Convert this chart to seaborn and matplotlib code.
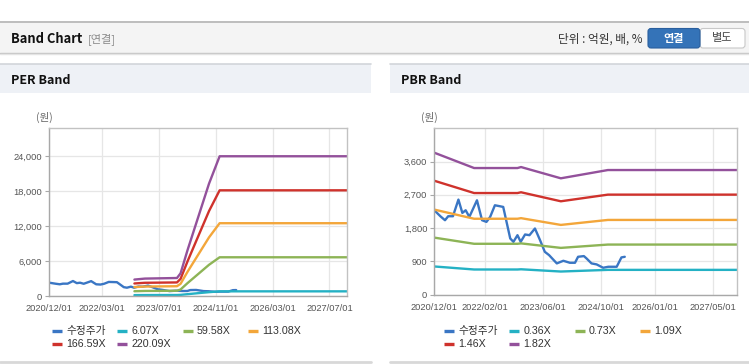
import matplotlib
matplotlib.use("Agg")
import matplotlib.pyplot as plt
from matplotlib.patches import Rectangle, FancyBboxPatch
from matplotlib.ticker import FuncFormatter, FixedLocator
import seaborn as sns
import pandas as pd

sns.set_theme(style="white")
LATIN = ["Liberation Sans", "Noto Sans CJK KR", "DejaVu Sans"]
KR = ["Noto Sans CJK KR", "DejaVu Sans"]
plt.rcParams["font.family"] = LATIN

# ---------------- data ----------------
price_dates = ["2020-12-01", "2021-01-21", "2021-03-01", "2021-03-28", "2021-05-07",
               "2021-06-22", "2021-07-25", "2021-08-22", "2021-09-22", "2021-11-25",
               "2022-01-07", "2022-02-13", "2022-03-16", "2022-04-25", "2022-06-07",
               "2022-07-04", "2022-09-01", "2022-09-28", "2022-11-01", "2022-11-28",
               "2023-01-04", "2023-02-10", "2023-03-28", "2023-05-10", "2023-06-19",
               "2023-07-25", "2023-09-28", "2023-11-22", "2024-01-16", "2024-02-28",
               "2024-03-25", "2024-05-13", "2024-06-04", "2024-07-16", "2024-08-28",
               "2024-10-22", "2024-12-04", "2025-02-13", "2025-03-25", "2025-04-22"]
price_values = [2281, 2119, 2011, 2119, 2119, 2570, 2209, 2281, 2101, 2551,
                2011, 1966, 2101, 2416, 2389, 2371, 1517, 1426, 1606, 1426,
                1625, 1606, 1787, 1471, 1156, 1066, 842, 913, 859, 859,
                1021, 1040, 977, 842, 815, 724, 751, 751, 1004, 1021]

per_band_dates = ["2022-12-01", "2023-03-01", "2023-12-01", "2024-01-01", "2024-03-01",
                  "2024-06-01", "2024-09-01", "2024-12-01", "2027-12-01"]
per_6_07 = [150, 160, 170, 195, 315, 490, 660, 800, 800]
per_59_58 = [820, 870, 900, 1120, 2220, 3790, 5360, 6650, 6650]
per_113_08 = [1530, 1620, 1680, 2100, 4170, 7120, 10070, 12500, 12500]
per_166_59 = [2150, 2270, 2330, 2950, 5970, 10290, 14590, 18150, 18150]
per_220_09 = [2820, 2990, 3090, 3900, 7900, 13600, 19300, 24000, 24000]
per_labels = ["6.07X", "59.58X", "113.08X", "166.59X", "220.09X"]

pbr_band_dates = ["2020-12-01", "2021-11-01", "2022-11-01", "2022-12-01",
                  "2023-11-01", "2024-12-01", "2027-12-01"]
pbr_0_36 = [759, 677, 677, 683, 622, 667, 667]
pbr_0_73 = [1540, 1373, 1373, 1384, 1262, 1352, 1352]
pbr_1_09 = [2299, 2051, 2051, 2067, 1884, 2019, 2019]
pbr_1_46 = [3080, 2747, 2747, 2768, 2524, 2704, 2704]
pbr_1_82 = [3839, 3424, 3424, 3451, 3146, 3370, 3370]
pbr_labels = ["0.36X", "0.73X", "1.09X", "1.46X", "1.82X"]

price_label = "수정주가"

per_xticks = ["2020-12-01", "2022-03-01", "2023-07-01", "2024-11-01", "2026-03-01", "2027-07-01"]
pbr_xticks = ["2020-12-01", "2022-02-01", "2023-06-01", "2024-10-01", "2026-01-01", "2027-05-01"]
per_yticks = [0, 6000, 12000, 18000, 24000]
pbr_yticks = [0, 900, 1800, 2700, 3600]

colors = ["#3a76c4", "#24b1c4", "#8db456", "#f3a63a", "#cf322c", "#93519b"]

# ---------------- build frames ----------------
def make_frame(band_dates, bands, labels):
    rows = []
    for d, v in zip(price_dates, price_values):
        rows.append((pd.Timestamp(d), v, price_label))
    for lab, vals in zip(labels, bands):
        for d, v in zip(band_dates, vals):
            rows.append((pd.Timestamp(d), v, lab))
    return pd.DataFrame(rows, columns=["date", "value", "series"])

per_df = make_frame(per_band_dates, [per_6_07, per_59_58, per_113_08, per_166_59, per_220_09], per_labels)
pbr_df = make_frame(pbr_band_dates, [pbr_0_36, pbr_0_73, pbr_1_09, pbr_1_46, pbr_1_82], pbr_labels)

W, H = 749, 364
fig = plt.figure(figsize=(W / 100, H / 100), dpi=100)
fig.patch.set_facecolor("white")

# overlay in pixel coordinates
ov = fig.add_axes([0, 0, 1, 1], zorder=0)
ov.set_xlim(0, W)
ov.set_ylim(H, 0)
ov.axis("off")

ov.plot([0, W], [22, 22], color="#b8b8b8", lw=1.3)
ov.add_patch(Rectangle((0, 23), W, 29.5, facecolor="#f4f4f4", edgecolor="none"))
ov.plot([0, W], [52.5, 52.5], color="#c4c4c4", lw=1.0)
ov.plot([0, W], [53.5, 53.5], color="#e4e4e4", lw=1.0)
ov.text(11, 39, "Band Chart", fontsize=9.3, fontweight="bold", color="#111111",
        va="center", ha="left", family=KR)
ov.text(88, 39, "[연결]", fontsize=8.0, color="#8a8a8a", va="center", ha="left", family=KR)
ov.text(643, 39, "단위 : 억원, 배, %", fontsize=8.4, color="#333333", va="center", ha="right", family=KR)
ov.add_patch(FancyBboxPatch((700, 28.5), 45, 19.5, boxstyle="round,pad=0,rounding_size=3",
                            facecolor="white", edgecolor="#c8c8c8", lw=0.8))
ov.add_patch(FancyBboxPatch((648, 28.5), 52, 19.5, boxstyle="round,pad=0,rounding_size=3",
                            facecolor="#3473b8", edgecolor="#2a5f9e", lw=0.8))
ov.text(674, 38.5, "연결", fontsize=8.0, fontweight="bold", color="white", va="center", ha="center", family=KR)
ov.text(722, 38.5, "별도", fontsize=8.0, color="#444444", va="center", ha="center", family=KR)

for x0, x1, title in [(0, 371, "PER Band"), (390, 749, "PBR Band")]:
    ov.add_patch(Rectangle((x0, 64), x1 - x0, 28.5, facecolor="#eef1f6", edgecolor="none"))
    ov.plot([x0, x1], [64, 64], color="#d2d5da", lw=1.2)
    ov.plot([x0, x1], [362, 362], color="#d8d8d8", lw=2.0)
    ov.text(x0 + 11, 80.5, title, fontsize=9.0, fontweight="bold", color="#111111",
            va="center", ha="left", family=KR)

ov.text(44, 117.5, "(원)", fontsize=7.6, color="#666666", va="center", ha="center", family=KR)
ov.text(429, 117.5, "(원)", fontsize=7.6, color="#666666", va="center", ha="center", family=KR)


def style_axis(ax, xticks, yticks, ylim, xlim):
    ax.set_facecolor("white")
    ax.set_xlim(pd.Timestamp(xlim[0]), pd.Timestamp(xlim[1]))
    ax.set_ylim(*ylim)
    ax.xaxis.set_major_locator(FixedLocator([matplotlib.dates.date2num(pd.Timestamp(t)) for t in xticks]))
    ax.set_xticklabels([t.replace("-", "/") for t in xticks])
    ax.yaxis.set_major_locator(FixedLocator(yticks))
    ax.yaxis.set_major_formatter(FuncFormatter(lambda v, p: f"{int(v):,}"))
    ax.grid(True, color="#e6e6e6", lw=0.9)
    ax.set_axisbelow(True)
    for s in ax.spines.values():
        s.set_color("#c2c2c2")
        s.set_linewidth(1.0)
    ax.spines["left"].set_color("#a8a8a8")
    ax.spines["bottom"].set_color("#a8a8a8")
    ax.tick_params(axis="x", length=0, pad=6, labelsize=6.7, labelcolor="#555555")
    ax.tick_params(axis="y", length=3, width=0.8, color="#a8a8a8", pad=2,
                   labelsize=6.7, labelcolor="#555555", left=True)
    ax.set_xlabel("")
    ax.set_ylabel("")


per_order = [price_label] + per_labels
pbr_order = [price_label] + pbr_labels

ax1 = fig.add_axes([49.3 / W, (H - 296) / H, 298 / W, (296 - 128.3) / H], zorder=2)
sns.lineplot(data=per_df, x="date", y="value", hue="series", hue_order=per_order,
             palette=dict(zip(per_order, colors)), estimator=None, sort=False,
             linewidth=1.7, legend=False, ax=ax1)
style_axis(ax1, per_xticks, per_yticks, (0, 28800), ("2020-12-01", "2027-12-01"))

ax2 = fig.add_axes([434.3 / W, (H - 294.5) / H, 302.4 / W, (294.5 - 128.3) / H], zorder=2)
sns.lineplot(data=pbr_df, x="date", y="value", hue="series", hue_order=pbr_order,
             palette=dict(zip(pbr_order, colors)), estimator=None, sort=False,
             linewidth=1.7, legend=False, ax=ax2)
style_axis(ax2, pbr_xticks, pbr_yticks, (0, 4500), ("2020-12-01", "2027-11-20"))

# legends (fixed-width items, 4 per row)
for x_start, order in [(52, per_order), (444, pbr_order)]:
    for i, (lab, col) in enumerate(zip(order, colors)):
        cx = x_start + (i % 4) * 65.3
        cy = 330.8 + (i // 4) * 12.8
        ov.plot([cx, cx + 10], [cy, cy], color=col, lw=2.4, solid_capstyle="butt")
        ov.text(cx + 14, cy, lab, fontsize=7.7, color="#333333", va="center", ha="left",
                family=LATIN)

fig.savefig("out.png", dpi=100, facecolor="white")
